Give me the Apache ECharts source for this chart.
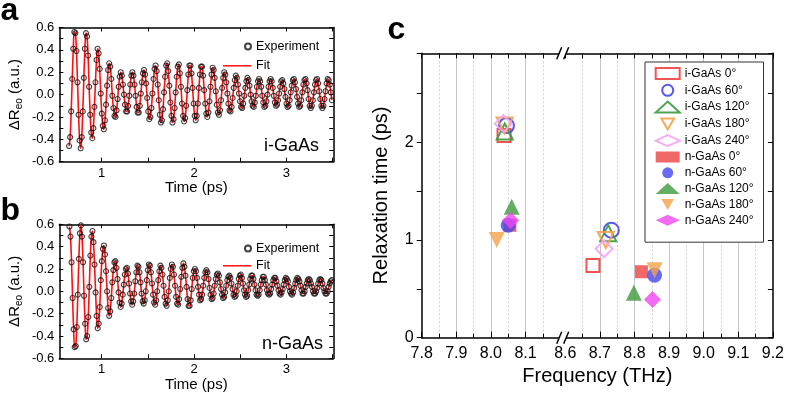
<!DOCTYPE html>
<html><head><meta charset="utf-8">
<script src="https://cdn.jsdelivr.net/npm/echarts@6/dist/echarts.min.js"></script>
<style>html,body{margin:0;padding:0;background:#fff}#chart{width:787px;height:397px}</style>
</head><body><div id="chart"></div>
<script>
// ---------- panel a (i-GaAs) : sampled signal ----------
const TIME_START_A = 0.646, TIME_STEP_A = 0.01144;
const SIGNAL_A = [
-0.46,-0.38,-0.15,0.14,0.41,0.56,0.55,0.39,0.11,-0.18,-0.41,
-0.48,-0.38,-0.15,0.15,0.41,0.55,0.52,0.35,0.07,-0.18,-0.34,
-0.39,-0.30,-0.11,0.11,0.31,0.41,0.37,0.23,0.01,-0.17,-0.28,
-0.31,-0.23,-0.09,0.08,0.22,0.28,0.25,0.14,-0.01,-0.12,-0.19,
-0.20,-0.14,-0.04,0.07,0.16,0.20,0.17,0.09,0.00,-0.09,-0.15,
-0.15,-0.10,-0.01,0.09,0.17,0.20,0.17,0.09,-0.01,-0.11,-0.16,
-0.16,-0.10,0.01,0.11,0.19,0.22,0.18,0.10,-0.03,-0.15,-0.22,
-0.20,-0.12,0.01,0.14,0.23,0.26,0.21,0.09,-0.05,-0.18,-0.25,
-0.23,-0.13,0.02,0.16,0.26,0.28,0.21,0.08,-0.07,-0.19,-0.25,
-0.22,-0.12,0.02,0.16,0.25,0.27,0.19,0.07,-0.08,-0.19,-0.24,
-0.21,-0.10,0.04,0.18,0.26,0.26,0.19,0.06,-0.08,-0.19,
-0.23,-0.19,-0.08,0.06,0.18,0.25,0.25,0.17,0.04,-0.08,-0.17,
-0.20,-0.16,-0.06,0.07,0.18,0.24,0.22,0.15,0.03,-0.09,-0.16,
-0.18,-0.14,-0.05,0.06,0.15,0.20,0.18,0.11,0.01,-0.08,-0.14,
-0.15,-0.11,-0.03,0.06,0.13,0.17,0.15,0.09,0.01,-0.06,-0.11,
-0.12,-0.08,-0.01,0.06,0.12,0.15,0.13,0.08,0.00,-0.06,-0.10,
-0.11,-0.07,-0.01,0.07,0.12,0.14,0.12,0.07,-0.01,-0.07,-0.11,
-0.10,-0.06,0.00,0.07,0.12,0.14,0.12,0.06,-0.01,-0.07,-0.10,
-0.09,-0.05,0.01,0.07,0.12,0.13,0.10,0.05,-0.02,-0.08,-0.11,
-0.10,-0.05,0.02,0.08,0.13,0.14,0.11,0.05,-0.02,-0.08,-0.11,
-0.10,-0.05,0.02,0.09,0.13,0.14,0.10,0.04,-0.04,-0.10,-0.12,
-0.10,-0.05,0.02,0.09,0.13,0.14,0.10,0.03,-0.04,-0.10,
-0.12,-0.10,-0.04,0.03,0.10,0.14,0.13,0.09,0.02,-0.05
];
// ---------- panel b (n-GaAs) : sampled signal ----------
const TIME_START_B = 0.65, TIME_STEP_B = 0.01133;
const SIGNAL_B = [
0.58,0.49,0.26,-0.06,-0.34,-0.50,-0.49,-0.32,-0.03,0.29,0.52,
0.59,0.49,0.26,-0.04,-0.29,-0.43,-0.40,-0.23,0.04,0.32,0.49,
0.54,0.44,0.24,-0.01,-0.22,-0.33,-0.29,-0.14,0.10,0.27,0.38,
0.41,0.33,0.18,0.00,-0.15,-0.22,-0.18,-0.06,0.08,0.19,0.26,
0.27,0.21,0.11,-0.01,-0.10,-0.14,-0.11,-0.03,0.06,0.15,0.20,
0.21,0.16,0.07,-0.02,-0.09,-0.12,-0.09,-0.02,0.09,0.17,0.23,
0.22,0.17,0.08,-0.02,-0.09,-0.11,-0.08,0.00,0.10,0.19,0.24,
0.23,0.17,0.07,-0.03,-0.10,-0.12,-0.08,0.00,0.10,0.18,0.23,
0.21,0.15,0.05,-0.05,-0.11,-0.13,-0.08,0.00,0.12,0.20,0.24,
0.22,0.15,0.05,-0.05,-0.11,-0.12,-0.07,0.02,0.13,0.21,0.25,
0.22,0.14,0.04,-0.07,-0.13,-0.13,-0.08,0.02,0.12,0.18,
0.20,0.18,0.12,0.04,-0.03,-0.08,-0.07,-0.03,0.05,0.12,0.17,
0.19,0.17,0.11,0.03,-0.03,-0.07,-0.06,-0.02,0.05,0.11,0.15,
0.16,0.14,0.08,0.02,-0.03,-0.06,-0.05,-0.01,0.05,0.10,0.13,
0.14,0.12,0.07,0.02,-0.03,-0.05,-0.04,0.00,0.05,0.11,0.14,
0.15,0.12,0.07,0.01,-0.03,-0.05,-0.04,0.01,0.06,0.11,0.14,
0.14,0.11,0.06,0.01,-0.03,-0.04,-0.03,0.01,0.06,0.10,0.13,
0.13,0.10,0.06,0.01,-0.02,-0.03,-0.02,0.02,0.06,0.10,0.12,
0.12,0.09,0.05,0.01,-0.02,-0.03,-0.01,0.02,0.06,0.10,0.12,
0.11,0.09,0.04,0.00,-0.02,-0.03,-0.01,0.03,0.07,0.10,0.12,
0.11,0.09,0.05,0.01,-0.02,-0.02,0.00,0.04,0.07,0.10,0.11,
0.10,0.07,0.04,0.00,-0.02,-0.02,0.00,0.03,0.07,0.10,
0.11,0.10,0.07,0.03,0.00,-0.02,-0.02,0.00,0.04,0.07,0.09,0.10
];
const TIME_TICKS = [1, 1.5, 2, 2.5, 3, 3.5];
const TIME_LABELS = [1, 2, 3];

// ---------- panel c : relaxation time vs frequency ----------
const SERIES_NAMES = ['i-GaAs 0°','i-GaAs 60°','i-GaAs 120°','i-GaAs 180°','i-GaAs 240°',
                      'n-GaAs 0°','n-GaAs 60°','n-GaAs 120°','n-GaAs 180°','n-GaAs 240°'];
const FREQ_MODE1 = [8.038, 8.045, 8.040, 8.040, 8.036, 8.055, 8.050, 8.060, 8.017, 8.057];
const TAU_MODE1  = [2.07, 2.17, 2.11, 2.17, 2.19, 1.15, 1.15, 1.34, 1.00, 1.20];
const FREQ_MODE2 = [8.680, 8.733, 8.724, 8.717, 8.712, 8.820, 8.858, 8.798, 8.858, 8.852];
const TAU_MODE2  = [0.74, 1.10, 1.07, 1.00, 0.91, 0.675, 0.64, 0.46, 0.69, 0.39];
const FREQ_MAJOR = [7.8, 7.9, 8.0, 8.1, 8.6, 8.7, 8.8, 8.9, 9.0, 9.1, 9.2];
const FREQ_MINOR = [7.85, 7.95, 8.05, 8.15, 8.65, 8.75, 8.85, 8.95, 9.05, 9.15];
const FREQ_GRID  = [7.9, 8.0, 8.1, 8.7, 8.8, 8.9, 9.0, 9.1];
const FREQ_MIN = 7.8, FREQ_MAX = 9.2, TAU_MIN = 0, TAU_MAX = 2.91;
const BREAK_START = 8.2, BREAK_END = 8.6, BREAK_GAP = 0.015;

// ---------- styles ----------
const DOWN_TRI = 'path://M0,0L2,0L1,1.73Z';
const MARKERS = ['rect','circle','triangle',DOWN_TRI,'diamond','rect','circle','triangle',DOWN_TRI,'diamond'];
const MARKER_SIZES = [13,15,16,16,17,13,15,16,16,17];
const COLORS = ['#ee4242','#4646ee','#3d9a3d','#f4a24a','#f4a4f4','#ee4242','#4646ee','#3d9a3d','#f4a24a','#f046f0'];
const FONT = '"Liberation Sans", Arial, sans-serif';

function toAxis(f){ return f <= BREAK_START ? f : f - (BREAK_END - BREAK_START) + BREAK_GAP; }
function fromAxis(v){ return v <= BREAK_START + BREAK_GAP/2 ? v : v + (BREAK_END - BREAK_START) - BREAK_GAP; }
function pairs(start, step, vals){ return vals.map((v,i)=>[+(start + i*step).toFixed(4), v]); }

const dataA = pairs(TIME_START_A, TIME_STEP_A, SIGNAL_A);
const dataB = pairs(TIME_START_B, TIME_STEP_B, SIGNAL_B);

const chart = echarts.init(document.getElementById('chart'), null, {renderer:'canvas'});
const black = '#000';
const lbl = (size)=>({color: black, fontSize: size, fontFamily: FONT});

function timeAxes(gridIndex){
  return [
    {gridIndex, type:'value', position:'bottom', min:0.54, max:3.51,
     axisLine:{onZero:false, lineStyle:{color:black, width:1.5}},
     axisTick:{inside:true, length:4, customValues:TIME_TICKS, lineStyle:{color:black, width:1}},
     axisLabel:Object.assign({customValues:TIME_LABELS, margin:5}, lbl(13)),
     splitLine:{show:false},
     name:'Time (ps)', nameLocation:'middle', nameGap:18, nameTextStyle:lbl(15)},
    {gridIndex, type:'value', position:'top', min:0.54, max:3.51,
     axisLine:{onZero:false, lineStyle:{color:black, width:1.5}},
     axisTick:{inside:true, length:4, customValues:TIME_TICKS, lineStyle:{color:black, width:1}},
     axisLabel:{show:false}, splitLine:{show:false}}
  ];
}
function signalAxes(gridIndex){
  return [
    {gridIndex, type:'value', position:'left', min:-0.6, max:0.6, interval:0.1,
     axisLine:{onZero:false, lineStyle:{color:black, width:1.5}},
     axisTick:{inside:true, length:4, lineStyle:{color:black, width:1}},
     axisLabel:Object.assign({margin:5, formatter:(v)=> (Math.round(v*10)%2===0 ? v.toFixed(1) : '')}, lbl(13)),
     splitLine:{show:false},
     name:'ΔR{sub|eo} (a.u.)', nameLocation:'middle', nameGap:35, nameRotate:90,
     nameTextStyle:{color:black, fontSize:15, fontFamily:FONT, verticalAlign:'bottom', lineHeight:18,
       rich:{sub:{fontSize:10, fontFamily:FONT, color:black, verticalAlign:'bottom', lineHeight:12}}}},
    {gridIndex, type:'value', position:'right', min:-0.6, max:0.6, interval:0.1,
     axisLine:{onZero:false, lineStyle:{color:black, width:1.5}},
     axisTick:{inside:true, length:4, lineStyle:{color:black, width:1}},
     axisLabel:{show:false}, splitLine:{show:false}}
  ];
}

const cX = {min: toAxis(FREQ_MIN), max: toAxis(FREQ_MAX)};
const xAxes = [
  ...timeAxes(0), ...timeAxes(1),
  {gridIndex:2, type:'value', position:'bottom', min:cX.min, max:cX.max,
   axisLine:{onZero:false, lineStyle:{color:black, width:1.5}},
   axisTick:{inside:true, length:6, customValues:FREQ_MAJOR.map(toAxis), lineStyle:{color:black, width:1}},
   axisLabel:Object.assign({customValues:FREQ_MAJOR.map(toAxis), margin:8, formatter:(v)=>fromAxis(v).toFixed(1)}, lbl(16)),
   splitLine:{show:false},
   name:'Frequency (THz)', nameLocation:'middle', nameGap:22, nameTextStyle:lbl(20), z:5},
  {gridIndex:2, type:'value', position:'bottom', min:cX.min, max:cX.max,
   axisLine:{show:false}, axisTick:{show:false, customValues:FREQ_GRID.map(toAxis)},
   axisLabel:{show:false},
   splitLine:{show:true, lineStyle:{color:'#c6c6c6', width:1}}},
  {gridIndex:2, type:'value', position:'bottom', min:cX.min, max:cX.max,
   axisLine:{show:false},
   axisTick:{inside:true, length:4, customValues:FREQ_MINOR.map(toAxis), lineStyle:{color:black, width:1}},
   axisLabel:{show:false},
   splitLine:{show:true, lineStyle:{color:'#d2d2d2', width:1, type:[2,2]}}},
  {gridIndex:2, type:'value', position:'top', min:cX.min, max:cX.max,
   axisLine:{onZero:false, lineStyle:{color:black, width:1.5}},
   axisTick:{inside:true, length:5, customValues:FREQ_MAJOR.concat(FREQ_MINOR).map(toAxis), lineStyle:{color:black, width:1}},
   axisLabel:{show:false}, splitLine:{show:false}}
];
const yAxes = [
  ...signalAxes(0), ...signalAxes(1),
  {gridIndex:2, type:'value', position:'left', min:TAU_MIN, max:TAU_MAX, interval:0.5,
   axisLine:{onZero:false, lineStyle:{color:black, width:1.5}},
   axisTick:{inside:false, length:5, lineStyle:{color:black, width:1}},
   axisLabel:Object.assign({margin:8, formatter:(v)=> (Math.abs(v-Math.round(v))<1e-6 ? String(Math.round(v)) : '')}, lbl(16)),
   splitLine:{show:false},
   name:'Relaxation time (ps)', nameLocation:'middle', nameGap:30, nameRotate:90, nameTextStyle:lbl(20)},
  {gridIndex:2, type:'value', position:'right', min:TAU_MIN, max:TAU_MAX, interval:0.5,
   axisLine:{onZero:false, lineStyle:{color:black, width:1.5}},
   axisTick:{inside:true, length:5, lineStyle:{color:black, width:1}},
   axisLabel:{show:false}, splitLine:{show:false}}
];

const series = [];
[[dataA,0],[dataB,2]].forEach(([d, ax])=>{
  series.push({type:'line', name:'Fit', xAxisIndex:ax, yAxisIndex:ax, data:d, smooth:0.4,
    showSymbol:false, symbol:'none', lineStyle:{color:'#ff1010', width:1.6}, itemStyle:{color:'#ff1010'}, z:2, silent:true});
  series.push({type:'scatter', name:'Experiment', xAxisIndex:ax, yAxisIndex:ax, data:d,
    symbol:'circle', symbolSize:5, itemStyle:{color:'rgba(0,0,0,0)', borderColor:'#111', borderWidth:1.1}, z:3, silent:true});
});
SERIES_NAMES.forEach((name,i)=>{
  const open = i < 5;
  series.push({type:'scatter', name, xAxisIndex:4, yAxisIndex:4,
    data:[[toAxis(FREQ_MODE1[i]), TAU_MODE1[i]], [toAxis(FREQ_MODE2[i]), TAU_MODE2[i]]],
    symbol:MARKERS[i], symbolSize:MARKER_SIZES[i],
    itemStyle: open ? {color:'rgba(255,255,255,0)', borderColor:COLORS[i], borderWidth:2, opacity:0.9}
                    : {color:COLORS[i], opacity:0.8},
    z: 4 + i, silent:true});
});

const legendText = {color:black, fontSize:12.5, fontFamily:FONT};
const option = {
  animation:false,
  backgroundColor:'#fff',
  grid:[
    {left:59.3, top:27.5, width:274, height:134.2, containLabel:false},
    {left:59.3, top:224.3, width:274, height:134, containLabel:false},
    {left:421.7, top:53.3, width:351.6, height:284.4, containLabel:false}
  ],
  xAxis:xAxes, yAxis:yAxes, series,
  legend:[
    {data:[{name:'Experiment'}], left:244, top:40, itemWidth:6, itemHeight:6, selectedMode:false, textStyle:legendText, padding:0},
    {data:[{name:'Fit', icon:'rect'}], left:223, top:59.3, itemWidth:28, itemHeight:1.5, selectedMode:false, textStyle:legendText, padding:0},
    {data:[{name:'Experiment'}], left:244, top:242, itemWidth:6, itemHeight:6, selectedMode:false, textStyle:legendText, padding:0},
    {data:[{name:'Fit', icon:'rect'}], left:223, top:259.3, itemWidth:28, itemHeight:1.5, selectedMode:false, textStyle:legendText, padding:0},
    {data:SERIES_NAMES, orient:'vertical', left:645, top:62, itemWidth:24, itemHeight:11, itemGap:3.8,
     padding:[5,10,16,9.7], backgroundColor:'#fff', borderColor:'#333', borderWidth:1,
     selectedMode:false, textStyle:{color:black, fontSize:12, fontFamily:FONT}}
  ]
};
chart.setOption(option);

function graphics(){
  const g = [
    {type:'text', x:0.5, y:11, style:{text:'a', font:'bold 32px '+FONT, fill:black, verticalAlign:'middle'}},
    {type:'text', x:0.5, y:211, style:{text:'b', font:'bold 32px '+FONT, fill:black, verticalAlign:'middle'}},
    {type:'text', x:387.5, y:30, style:{text:'c', font:'bold 32px '+FONT, fill:black, verticalAlign:'middle'}},
    {type:'text', x:264, y:146.4, style:{text:'i-GaAs', font:'18px '+FONT, fill:black, verticalAlign:'middle'}},
    {type:'text', x:262, y:344, style:{text:'n-GaAs', font:'18px '+FONT, fill:black, verticalAlign:'middle'}}
  ];
  const xa = chart.convertToPixel({xAxisIndex:4}, toAxis(BREAK_START));
  const xb = chart.convertToPixel({xAxisIndex:4}, toAxis(BREAK_END));
  const bx = (xa + xb) / 2;
  [chart.convertToPixel({yAxisIndex:4}, TAU_MIN), chart.convertToPixel({yAxisIndex:4}, TAU_MAX)].forEach(yy=>{
    g.push({type:'polygon', z:100, shape:{points:[[bx-6,yy+6],[bx-1,yy-6],[bx+6,yy-6],[bx+1,yy+6]]}, style:{fill:'#fff'}});
    g.push({type:'line', z:101, shape:{x1:bx-6,y1:yy+6,x2:bx-1,y2:yy-6}, style:{stroke:black, lineWidth:1.5}});
    g.push({type:'line', z:101, shape:{x1:bx+1,y1:yy+6,x2:bx+6,y2:yy-6}, style:{stroke:black, lineWidth:1.5}});
  });
  return g;
}
chart.setOption({graphic: graphics()});
</script>
</body></html>
